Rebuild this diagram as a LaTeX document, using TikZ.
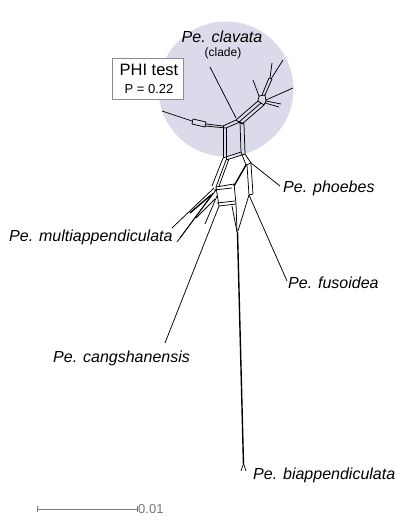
\documentclass[tikz,border=0pt]{standalone}
\usepackage{fontspec}
\setmainfont{Liberation Sans}
\definecolor{circ}{RGB}{218,218,234}
\definecolor{boxgray}{RGB}{140,140,140}
\definecolor{bargray}{RGB}{120,120,120}
\begin{document}
\begin{tikzpicture}[x=1pt,y=-1pt,
  net/.style={line width=0.75pt, line join=round},
  thick net/.style={line width=1.4pt},
  taxon/.style={font=\fontsize{16}{19}\selectfont\itshape, inner sep=0pt, anchor=west}]
\useasboundingbox (0,0) rectangle (398,517);
% clade circle
\fill[circ] (226,89) circle (67.5pt);
% ---- network inside circle ----
\begin{scope}[net]
% spoke to clavata
\draw (236,118) -- (210,67);
% upper-right band
\draw (236,120) -- (258,101);
\draw (239,122) -- (261,103);
\draw (242,124) -- (264,105);
\draw (236,120) -- (242,124);
\draw (258,101) -- (259,96) -- (265,95) -- (266,101) -- (264,105) -- cycle;
\draw (259,96) -- (253,80);
\draw (262,95) -- (269,78);
\draw (265,95) -- (272,79);
\draw (269,78) -- (272,79);
\draw (270,78) -- (272,63);
\draw (271,79) -- (283,60);
\draw (266,100) -- (293,88);
\draw (266,101) -- (281,104);
\draw (265,103) -- (279,107);
% left branch
\draw (192,121) -- (162,111);
\draw (193,119) -- (206,122) -- (205,127) -- (192,124) -- cycle;
\draw (206,124) -- (223,126);
\draw (205,126) -- (226,128);
% parallelogram below hub
\draw (223,126) -- (236,120);
\draw (226,128) -- (240,122);
\draw (240,122) -- (244,124);
\draw (223,126) -- (223,158);
\draw (226,128) -- (226,160);
\draw (240,122) -- (241,152);
\draw (244,124) -- (245,154);
\draw (223,158) -- (241,152);
\draw (226,160) -- (245,154);
\end{scope}
% ---- network below circle ----
\begin{scope}[net]
\draw (241,152) -- (246,165) -- (251,163) -- (245,154);
\draw (251,163) -- (280,186);
\draw[thick net] (246,165) -- (234,186);
\draw (247,165) -- (249,195);
\draw (251,164) -- (253,194);
\draw (249,195) -- (287,281);
\draw (249,195) -- (253,194);
% left descending
\draw (223,158) -- (212,186);
\draw (226,160) -- (216,187);
\draw (229,159) -- (219,186);
% middle box
\draw (216,187) -- (234,184) -- (236,204) -- (219,206) -- cycle;
\draw (214,190) -- (232,188);
\draw (217,203) -- (235,201);
% to biappendiculata
\draw (236,204) -- (237,232);
\draw (232,206) -- (237,232);
\draw (249,195) -- (238,231);
\draw[line width=1.4pt] (237.5,232) -- (243.5,465);
\draw (243,465) -- (241,471);
\draw (244,465) -- (246,471);
% to cangshanensis
\draw (219,206) -- (165,343);
% multiappendiculata fan
\draw (214,188) -- (172,228);
\draw (216,190) -- (177,242);
\draw (213,193) -- (180,238);
\draw (217,196) -- (205,224);
\draw[thick net] (211,195) -- (190,213);
\draw (215,199) -- (196,218);
\end{scope}
% ---- labels ----
\node (clav) at (222,37) {\fontsize{16}{19}\selectfont\itshape Pe. clavata};
\node (clade) at (223,53) {\fontsize{12}{14}\selectfont (clade)};
\node[draw=boxgray, line width=0.7pt, fill=white, minimum width=71pt, minimum height=41pt] (phi) at (147.5,78.5) {};
\node (phit) at (149,70) {\fontsize{16.5}{19}\selectfont PHI test};
\node (phip) at (149,89) {\fontsize{13}{15}\selectfont P = 0.22};
\node[taxon] (phoe) at (283,188) {Pe. phoebes};
\node[taxon] (mult) at (9,237) {Pe. multiappendiculata};
\node[taxon] (fuso) at (288,283) {Pe. fusoidea};
\node[taxon] (cang) at (53,358) {Pe. cangshanensis};
\node[taxon] (biap) at (253,475) {Pe. biappendiculata};
% scale bar
\coordinate (sb1) at (37,509);
\coordinate (sb2) at (137,509);
\draw[bargray, line width=0.8pt] (sb1) -- (sb2);
\draw[bargray, line width=0.8pt] ([yshift=-3pt]sb1) -- ([yshift=3pt]sb1);
\draw[bargray, line width=0.8pt] ([yshift=-3pt]sb2) -- ([yshift=3pt]sb2);
\node[anchor=south west, inner sep=0pt, xshift=1pt, yshift=-4.5pt, text=bargray, font=\fontsize{13}{15}\selectfont] (sbl) at (sb2) {0.01};
\end{tikzpicture}
\end{document}
